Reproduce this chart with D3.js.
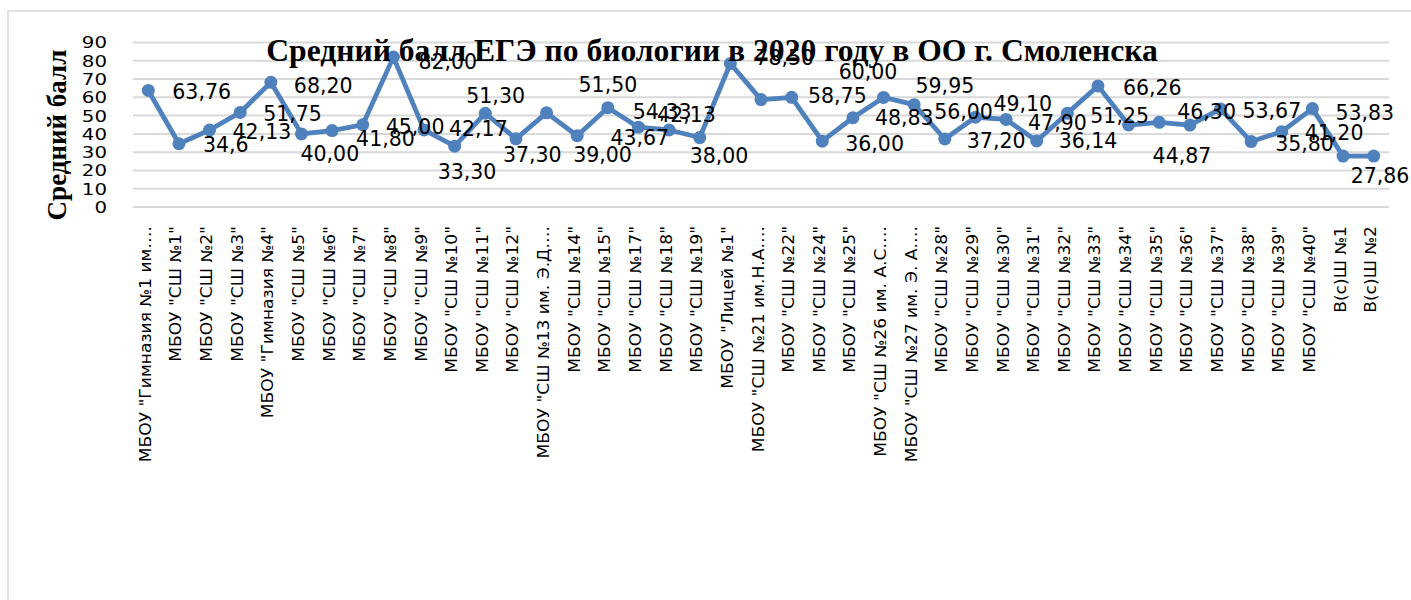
<!DOCTYPE html>
<html>
<head>
<meta charset="utf-8">
<script src="https://cdn.jsdelivr.net/npm/d3@7"></script>
<style>
  body { margin: 0; background: #fff; }
  text { fill: #000; }
</style>
</head>
<body>
<div id="container"></div>
<script>
"use strict";

const width = 1411;
const height = 600;

// chart texts
const chartTitle = "Средний балл ЕГЭ по биологии в 2020 году в ОО г. Смоленска";
const yTitle = "Средний балл";

// schools (labels are cut by the chart the same way as in the original)
const schools = [
    'МБОУ "Гимназия №1 им.…', 'МБОУ "СШ №1"', 'МБОУ "СШ №2"', 'МБОУ "СШ №3"',
    'МБОУ "Гимназия №4"', 'МБОУ "СШ №5"', 'МБОУ "СШ №6"', 'МБОУ "СШ №7"',
    'МБОУ "СШ №8"', 'МБОУ "СШ №9"', 'МБОУ "СШ №10"', 'МБОУ "СШ №11"',
    'МБОУ "СШ №12"', 'МБОУ "СШ №13 им. Э.Д.…', 'МБОУ "СШ №14"', 'МБОУ "СШ №15"',
    'МБОУ "СШ №17"', 'МБОУ "СШ №18"', 'МБОУ "СШ №19"', 'МБОУ "Лицей №1"',
    'МБОУ "СШ №21 им.Н.А.…', 'МБОУ "СШ №22"', 'МБОУ "СШ №24"', 'МБОУ "СШ №25"',
    'МБОУ "СШ №26 им. А.С.…', 'МБОУ "СШ №27 им. Э. А.…', 'МБОУ "СШ №28"', 'МБОУ "СШ №29"',
    'МБОУ "СШ №30"', 'МБОУ "СШ №31"', 'МБОУ "СШ №32"', 'МБОУ "СШ №33"',
    'МБОУ "СШ №34"', 'МБОУ "СШ №35"', 'МБОУ "СШ №36"', 'МБОУ "СШ №37"',
    'МБОУ "СШ №38"', 'МБОУ "СШ №39"', 'МБОУ "СШ №40"', 'В(с)Ш №1', 'В(с)Ш №2'
];

// average score per school
const scores = [
    63.76, 34.6, 42.13, 51.75, 68.20, 40.00, 41.80, 45.00, 82.00, 42.17,
    33.30, 51.30, 37.30, 51.50, 39.00, 54.33, 43.67, 42.13, 38.00, 78.50,
    58.75, 60.00, 36.00, 48.83, 59.95, 56.00, 37.20, 49.10, 47.90, 36.14,
    51.25, 66.26, 44.87, 46.30, 44.80, 53.67, 35.80, 41.20, 53.83, 27.86,
    27.86
];

// which data labels are shown (two are hidden in the original)
const labelShown = scores.map((d, i) => i != 34 && i != 39);

const yTicks = [0, 10, 20, 30, 40, 50, 60, 70, 80, 90];

// hand placed data labels, offsets from the marker: [left edge dx, centre dy]
const labelNudge = [
    [24, 1], [24, 1], [23, 2], [23, 1], [23, 3], [-1, 20], [24, 8], [23, 2], [25, 4], [25, -1],
    [-17, 25], [-19, -18], [-13, 16], [32, -28], [-4, 19], [25, 4], [-28, 10], [-12, -15], [-10, 18], [25, -6],
    [47, -4], [47, -26], [23, 2], [22, 0], [32, -12], [20, 7], [22, 2], [18, -14], [22, 3], [22, 0],
    [23, 2], [25, 2], [24, 31], [18, -11], [0, 0], [22, 2], [24, 2], [23, 1], [23, 4], [0, 0],
    [-23, 20]
];

const lineColor = "#4f81bd";
const gridColor = "#d9d9d9";
const sansFont = "'DejaVu Sans', 'Open Sans', sans-serif";
const serifFont = "'Liberation Serif', 'DejaVu Serif', serif";

const fmt = v => v.toFixed(v == 34.6 ? 1 : 2).replace(".", ",");

function initialize() {
    let svg = d3.select("#container").append("svg")
        .attr("width", width)
        .attr("height", height);

    svg.append("rect")
        .attr("width", width).attr("height", height)
        .attr("fill", "#fff");

    // chart frame, it runs out of the picture on the right and bottom
    svg.append("rect")
        .attr("x", 8).attr("y", 11)
        .attr("width", width + 20).attr("height", height + 20)
        .attr("fill", "none")
        .attr("stroke", gridColor)
        .attr("stroke-width", 1.5);

    let x = d3.scaleBand().domain(schools).range([133, 1389]);
    let y = d3.scaleLinear().domain([0, 90]).range([207, 42.5]);
    let cx = d => x(d) + x.bandwidth() / 2;

    // gridlines
    svg.append("g")
        .selectAll("line")
        .data(yTicks)
        .enter()
        .append("line")
        .attr("x1", 133).attr("x2", 1389)
        .attr("y1", d => y(d)).attr("y2", d => y(d))
        .attr("stroke", gridColor)
        .attr("stroke-width", 2);

    // y tick labels (text is a bit wider in the original)
    svg.append("g")
        .selectAll("text")
        .data(yTicks)
        .enter()
        .append("text")
        .attr("transform", d => "translate(107," + y(d) + ") scale(1.2,1)")
        .attr("text-anchor", "end")
        .attr("dy", "0.36em")
        .style("font-family", sansFont)
        .style("font-size", "16.5px")
        .text(d => d);

    // category labels
    svg.append("g")
        .selectAll("text")
        .data(schools)
        .enter()
        .append("text")
        .attr("transform", d => "translate(" + (cx(d) + 2.5) + ",226) rotate(-90) scale(1.14,1)")
        .attr("text-anchor", "end")
        .style("font-family", sansFont)
        .style("font-size", "15px")
        .text(d => d);

    // y axis title
    svg.append("text")
        .attr("transform", "translate(66,135) rotate(-90)")
        .attr("text-anchor", "middle")
        .style("font-family", serifFont)
        .style("font-weight", "bold")
        .style("font-size", "27px")
        .text(yTitle);

    // the line
    let line = d3.line()
        .x((d, i) => cx(schools[i]))
        .y(d => y(d));

    svg.append("path")
        .datum(scores)
        .attr("d", line)
        .attr("fill", "none")
        .attr("stroke", lineColor)
        .attr("stroke-width", 4.8)
        .attr("stroke-linejoin", "round");

    svg.append("g")
        .selectAll("circle")
        .data(scores)
        .enter()
        .append("circle")
        .attr("cx", (d, i) => cx(schools[i]))
        .attr("cy", d => y(d))
        .attr("r", 6.5)
        .attr("fill", lineColor);

    // title sits on top of the plot like in the original
    svg.append("text")
        .attr("transform", "translate(712,61) scale(1.02,1)")
        .attr("text-anchor", "middle")
        .style("font-family", serifFont)
        .style("font-weight", "bold")
        .style("font-size", "31px")
        .text(chartTitle);

    // data labels
    let labels = scores
        .map((v, i) => ({ v: v, i: i }))
        .filter(d => labelShown[d.i]);

    svg.append("g")
        .selectAll("text")
        .data(labels)
        .enter()
        .append("text")
        .attr("x", d => cx(schools[d.i]) + labelNudge[d.i][0])
        .attr("y", d => y(d.v) + labelNudge[d.i][1])
        .attr("dy", "0.36em")
        .style("font-family", sansFont)
        .style("font-size", "20.5px")
        .text(d => fmt(d.v));
}

window.onload = initialize;
</script>
</body>
</html>
